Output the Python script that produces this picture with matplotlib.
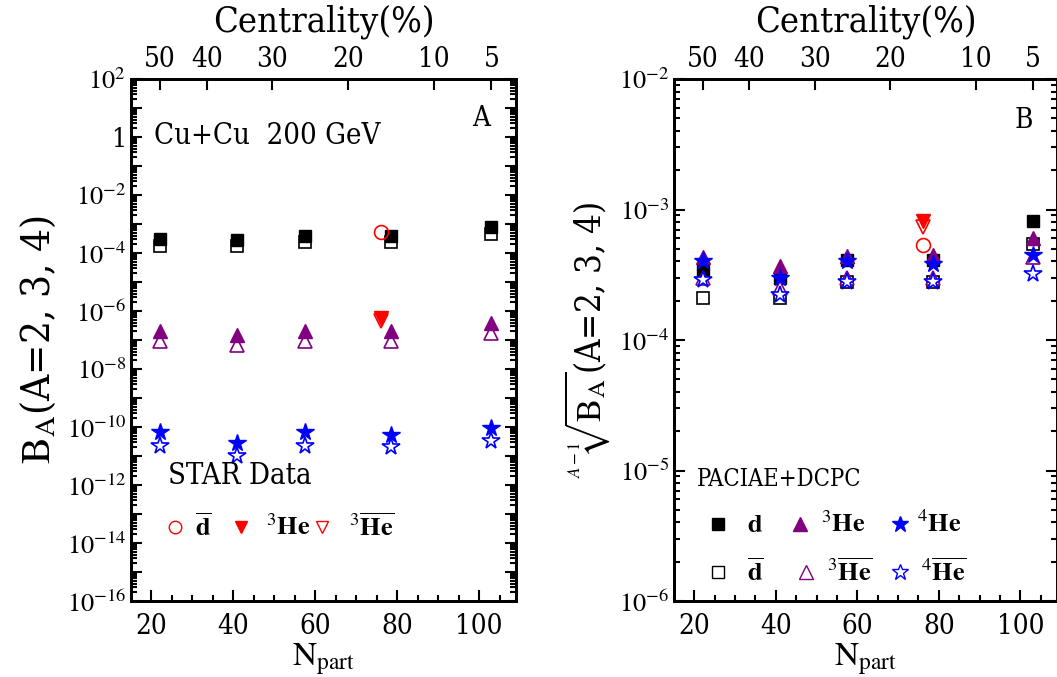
import numpy as np
import matplotlib
matplotlib.use("Agg")
import matplotlib.pyplot as plt
from matplotlib.ticker import FixedLocator, FuncFormatter, LogLocator, NullFormatter, MultipleLocator

plt.rcParams['font.family'] = ['DejaVu Serif']
plt.rcParams['font.stretch'] = 'condensed'
plt.rcParams['mathtext.fontset'] = 'stix'

# ---------------- data ----------------
npart = [22, 41, 57.5, 78.5, 103]
npart_star = [76]
cent_labels = ["50", "40", "30", "20", "10", "5"]
cent_npart = [22, 33.5, 49.5, 68, 89, 103]

# panel A: B_A
A_d = [3.1e-4, 2.9e-4, 3.8e-4, 3.8e-4, 7.6e-4]
A_dbar = [1.8e-4, 1.8e-4, 2.4e-4, 2.4e-4, 4.5e-4]
A_he3 = [2.0e-7, 1.5e-7, 2.0e-7, 2.0e-7, 4.0e-7]
A_he3bar = [9.0e-8, 6.6e-8, 9.0e-8, 9.5e-8, 1.8e-7]
A_he4 = [6.5e-11, 2.8e-11, 6.5e-11, 5.5e-11, 9.0e-11]
A_he4bar = [2.2e-11, 1.0e-11, 2.2e-11, 2.1e-11, 3.2e-11]
A_star_dbar = [5.2e-4]
A_star_he3 = [5.9e-7]
A_star_he3bar = [4.7e-7]

# panel B: (A-1)-th root of B_A
B_d = [3.4e-4, 3.0e-4, 4.1e-4, 4.1e-4, 8.2e-4]
B_dbar = [2.1e-4, 2.1e-4, 2.8e-4, 2.8e-4, 5.4e-4]
B_he3 = [4.3e-4, 3.7e-4, 4.4e-4, 4.5e-4, 6.1e-4]
B_he3bar = [3.0e-4, 2.5e-4, 3.0e-4, 3.0e-4, 4.3e-4]
B_he4 = [4.0e-4, 3.0e-4, 4.0e-4, 3.8e-4, 4.5e-4]
B_he4bar = [2.9e-4, 2.2e-4, 2.8e-4, 2.8e-4, 3.2e-4]
B_star_dbar = [5.3e-4]
B_star_he3 = [8.1e-4]
B_star_he3bar = [7.4e-4]

PURPLE = '#800080'
BLUE = '#0000ff'
RED = '#ff0000'

W, H = 1057, 677
fig = plt.figure(figsize=(W / 100, H / 100), dpi=100)
top, bot = 79, 601
ax1 = fig.add_axes([131 / W, 1 - bot / H, 385 / W, (bot - top) / H])
ax2 = fig.add_axes([674 / W, 1 - bot / H, 383 / W, (bot - top) / H])

TICKFS = 19


def style_axes(ax, ylo, yhi, label_every):
    ax.set_yscale('log')
    ax.set_ylim(10.0 ** ylo, 10.0 ** yhi)
    ax.set_xlim(15, 109)
    ax.xaxis.set_major_locator(FixedLocator([20, 40, 60, 80, 100]))
    ax.xaxis.set_minor_locator(MultipleLocator(5))
    majors = [10.0 ** e for e in range(ylo, yhi + 1)]
    ax.yaxis.set_major_locator(FixedLocator(majors))
    ax.yaxis.set_minor_locator(LogLocator(base=10, subs=np.arange(2, 10), numticks=100))
    ax.yaxis.set_minor_formatter(NullFormatter())

    def fmt(v, pos):
        e = int(round(np.log10(v)))
        if (e - ylo) % label_every != 0:
            return ''
        if e == 0:
            return '1'
        return r'$10^{%d}$' % e
    ax.yaxis.set_major_formatter(FuncFormatter(fmt))
    ax.tick_params(which='both', direction='in', top=False, right=True, width=1.5)
    ax.tick_params(which='major', length=8, labelsize=TICKFS)
    ax.tick_params(which='minor', length=4)
    ax.tick_params(axis='x', which='major', pad=9, labelsize=20)
    for s in ax.spines.values():
        s.set_linewidth(2)
    tw = ax.twiny()
    tw.set_xlim(ax.get_xlim())
    tw.set_xticks(cent_npart)
    tw.set_xticklabels(cent_labels, fontsize=20)
    tw.tick_params(direction='in', length=8, width=1.5, pad=4)
    tw.set_xlabel('Centrality(%)', fontsize=26, labelpad=11)
    for s in tw.spines.values():
        s.set_linewidth(2)
    ax.set_xlabel(r'$\mathrm{N}_{\mathrm{part}}$', fontsize=24, labelpad=1)
    return tw


style_axes(ax1, -16, 2, 2)
style_axes(ax2, -6, -2, 1)

ms_sq, ms_tr, ms_st, ms_ci = 8, 10, 13, 10


def plot_set(ax, d, dbar, he3, he3bar, he4, he4bar, sd, sh, shb):
    ax.plot(npart, dbar, 's', mfc='white', mec='black', ms=ms_sq, mew=1.2, ls='none')
    ax.plot(npart, d, 's', color='black', ms=ms_sq, ls='none')
    ax.plot(npart, he3bar, '^', mfc='white', mec=PURPLE, ms=ms_tr, mew=1.2, ls='none')
    ax.plot(npart, he3, '^', color=PURPLE, ms=ms_tr, ls='none')
    ax.plot(npart, he4bar, '*', mfc='white', mec=BLUE, ms=ms_st, mew=1.2, ls='none')
    ax.plot(npart, he4, '*', color=BLUE, ms=ms_st, ls='none')
    ax.plot(npart_star, sd, 'o', mfc='none', mec=RED, ms=ms_ci, mew=1.2, ls='none')
    ax.plot(npart_star, sh, 'v', color=RED, ms=ms_tr, ls='none')
    ax.plot(npart_star, shb, 'v', mfc='none', mec=RED, ms=ms_tr, mew=1.2, ls='none')


plot_set(ax1, A_d, A_dbar, A_he3, A_he3bar, A_he4, A_he4bar, A_star_dbar, A_star_he3, A_star_he3bar)
plot_set(ax2, B_d, B_dbar, B_he3, B_he3bar, B_he4, B_he4bar, B_star_dbar, B_star_he3, B_star_he3bar)

ax1.set_ylabel(r'$\mathrm{B}_{\mathrm{A}}$(A=2, 3, 4)', fontsize=29, labelpad=6)
ax2.set_ylabel(r'$\sqrt[A-1]{\mathrm{B}_{\mathrm{A}}}$(A=2, 3, 4)', fontsize=25, labelpad=5)

ax1.text(0.06, 0.89, 'Cu+Cu  200 GeV', transform=ax1.transAxes, fontsize=21, va='center')
ax1.text(0.885, 0.925, 'A', transform=ax1.transAxes, fontsize=20, va='center')
ax2.text(0.89, 0.92, 'B', transform=ax2.transAxes, fontsize=20, va='center')


def leg_entry(ax, x, y, marker, mfc, mec, ms, label, tx):
    ax.plot([x], [y], marker=marker, mfc=mfc, mec=mec, ms=ms, mew=1.0, ls='none',
            transform=ax.transAxes, clip_on=False)
    ax.text(tx, y, label, transform=ax.transAxes, fontsize=19, va='center',
            fontweight='bold')

ax1.text(0.095, 0.24, 'STAR Data', transform=ax1.transAxes, fontsize=21, va='center')
yl = 0.141
leg_entry(ax1, 0.115, yl, 'o', 'none', RED, 9, r'$\mathbf{\overline{d}}$', 0.165)
leg_entry(ax1, 0.285, yl, 'v', RED, RED, 9, r'$^{3}\mathbf{He}$', 0.35)
leg_entry(ax1, 0.495, yl, 'v', 'none', RED, 9, r'$^{3}\mathbf{\overline{He}}$', 0.565)

ax2.text(0.06, 0.232, 'PACIAE+DCPC', transform=ax2.transAxes, fontsize=17, va='center')
y1, y2 = 0.147, 0.055
leg_entry(ax2, 0.115, y1, 's', 'black', 'black', 8, r'$\mathbf{d}$', 0.19)
leg_entry(ax2, 0.33, y1, '^', PURPLE, PURPLE, 10, r'$^{3}\mathbf{He}$', 0.385)
leg_entry(ax2, 0.59, y1, '*', BLUE, BLUE, 12, r'$^{4}\mathbf{He}$', 0.635)
leg_entry(ax2, 0.115, y2, 's', 'white', 'black', 8, r'$\mathbf{\overline{d}}$', 0.19)
leg_entry(ax2, 0.345, y2, '^', 'white', PURPLE, 10, r'$^{3}\mathbf{\overline{He}}$', 0.4)
leg_entry(ax2, 0.59, y2, '*', 'white', BLUE, 12, r'$^{4}\mathbf{\overline{He}}$', 0.645)

fig.savefig('out.png', dpi=100)
